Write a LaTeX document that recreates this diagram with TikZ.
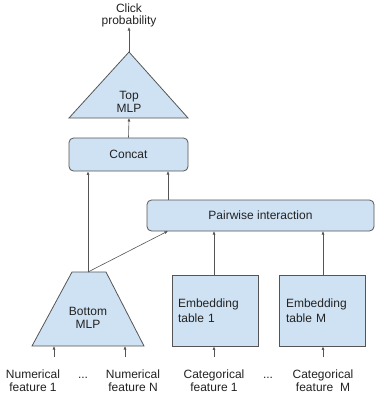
\documentclass[tikz,border=0pt]{standalone}
\usepackage{fontspec}
\setmainfont{Liberation Sans}
\usetikzlibrary{arrows.meta}
\definecolor{boxfill}{HTML}{CFE2F3}
\definecolor{boxline}{HTML}{555555}
\definecolor{txt}{HTML}{222222}
\tikzset{
  blk/.style={draw=boxline, fill=boxfill, line width=0.8pt},
  rbox/.style={blk, rounded corners=4.5pt, inner sep=0pt, font=\fontsize{12}{13}\selectfont, text=txt},
  ebox/.style={blk, inner xsep=6pt, inner ysep=0pt, minimum width=86pt, minimum height=71pt, text width=74pt, align=left, font=\fontsize{12}{15}\selectfont, text=txt},
  lbl/.style={inner sep=0pt, align=center, font=\fontsize{12}{13}\selectfont, text=txt},
  arr/.style={draw=boxline, line width=0.6pt, -{Latex[length=3.5pt,width=3pt]}},
}
\begin{document}
\begin{tikzpicture}[x=1pt,y=-1pt]
\useasboundingbox (0,0) rectangle (376,394);
% top MLP triangle
\coordinate (tA) at (129,52);
\coordinate (tL) at (69,118);
\coordinate (tR) at (188,118);
\coordinate (tB) at (129,118);
\draw[blk] (tL) -- (tA) -- (tR) -- cycle;
\node[lbl] (top) at (129,102) {Top\\MLP};
\node[lbl, font=\fontsize{12}{11.5}\selectfont] (click) at (129,15.5) {Click\\probability};
\draw[arr] (tA) -- (click.south |- 0,27);
% concat
\node[rbox, minimum width=119pt, minimum height=33pt] (concat) at (128.5,154.5) {Concat};
\draw[arr] (concat.north) -- (tB);
% pairwise
\node[rbox, minimum width=227pt, minimum height=31pt] (pair) at (260.5,215.5) {Pairwise interaction};
% bottom MLP
\coordinate (bTL) at (72,272);
\coordinate (bTR) at (106,272);
\coordinate (bBR) at (144,346);
\coordinate (bBL) at (32,346);
\coordinate (bT) at (88,272);
\draw[blk] (bTL) -- (bTR) -- (bBR) -- (bBL) -- cycle;
\node[lbl] (bottom) at (88,318) {Bottom\\MLP};
% embedding tables
\node[ebox] (emb1) at (215,310.5) {Embedding\\table 1};
\node[ebox, inner xsep=7pt, text width=72pt] (embM) at (322,310.5) {Embedding\\table M};
% connectors upward
\draw[arr] (bT) -- (bT |- concat.south);
\draw[arr] (bT) -- (168,231);
\draw[arr] (pair.north -| 168,0) -- (168,171);
\draw[arr] (emb1.north -| 214,0) -- (214,231);
\draw[arr] (embM.north -| 323,0) -- (323,231);
% input labels
\node[lbl] (num1) at (33,380.5) {Numerical\\feature 1};
\node[lbl] (dots1) at (83,378) {...};
\node[lbl] (numN) at (133,380.5) {Numerical\\feature N};
\node[lbl] (cat1) at (214,380.5) {Categorical\\feature 1};
\node[lbl] (dots2) at (268,378) {...};
\node[lbl] (catM) at (323,380.5) {Categorical\\feature\ \ M};
\coordinate (i1) at (54,357);
\coordinate (i2) at (125,357);
\coordinate (i3) at (214,357);
\coordinate (i4) at (323,357);
\draw[arr] (i1) -- (54,346);
\draw[arr] (i2) -- (125,346);
\draw[arr] (i3) -- (emb1.south -| i3);
\draw[arr] (i4) -- (embM.south -| i4);
\end{tikzpicture}
\end{document}
